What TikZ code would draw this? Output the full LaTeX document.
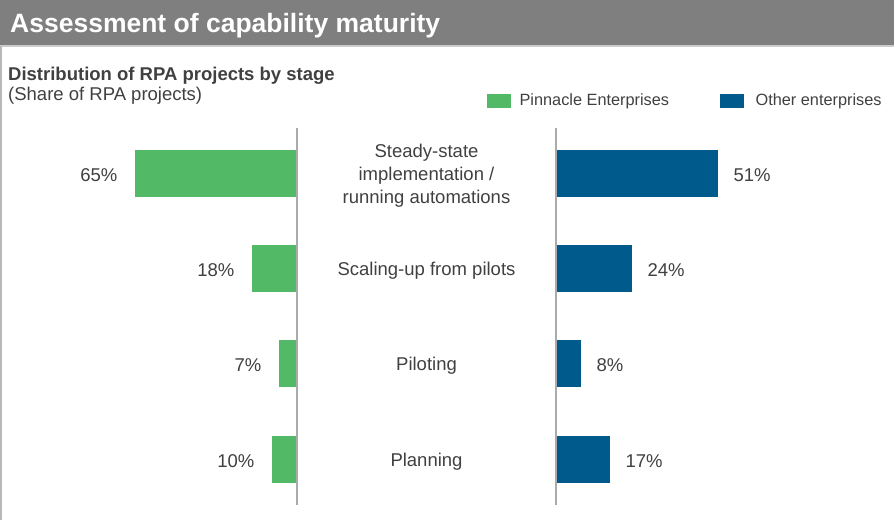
\documentclass[tikz,border=0pt]{standalone}
\usepackage{fontspec}
\setmainfont{Liberation Sans}
\usetikzlibrary{positioning}
\definecolor{titlegray}{HTML}{7F7F7F}
\definecolor{pinnacle}{HTML}{52BA66}
\definecolor{others}{HTML}{005A8C}
\definecolor{txt}{HTML}{404040}
\definecolor{axisgray}{HTML}{ABABAB}

\begin{document}
\begin{tikzpicture}[x=1pt,y=-1pt,
				gbar/.style={fill=pinnacle, minimum height=47pt, inner sep=0pt, anchor=east},
				bbar/.style={fill=others, minimum height=47pt, inner sep=0pt, anchor=west},
				val/.style={text=txt, inner sep=0pt, yshift=-2pt, font=\fontsize{18.5}{22}\selectfont},
				stage/.style={text=txt, align=center, inner sep=0pt, yshift=-2pt, font=\fontsize{18.5}{23}\selectfont},
				legbox/.style={fill=#1, minimum width=24pt, minimum height=14pt, inner sep=0pt, anchor=west},
				legtxt/.style={text=txt, inner sep=0pt, anchor=west, font=\fontsize{16.3}{19}\selectfont},
				]
				\useasboundingbox (0,0) rectangle (894,520);
				
				% header
				\fill[titlegray] (0,0) rectangle (894,45);
				\draw[gray!40, line width=1.5pt] (0,46) -- (894,46);
				\draw[gray!55, line width=1.5pt] (1,46) -- (1,520);
				\node[anchor=base west, text=white, inner sep=0pt, font=\fontsize{26.5}{30}\selectfont\bfseries] (title) at (10,32) {Assessment of capability maturity};
				\node[anchor=base west, text=txt, inner sep=0pt, font=\fontsize{18.5}{22}\selectfont\bfseries] (sub) at (8,80) {Distribution of RPA projects by stage};
				\node[anchor=base west, text=txt, inner sep=0pt, font=\fontsize{18.5}{22}\selectfont] (unit) at (8,100) {(Share of RPA projects)};
				
				% legend
				\node[legbox=pinnacle] (lg1) at (487,101) {};
				\node[legtxt, right=8pt of lg1] (lt1) {Pinnacle Enterprises};
				\node[legbox=others] (lg2) at (720,101) {};
				\node[legtxt, right=11pt of lg2] (lt2) {Other enterprises};
				
				% Pinnacle Enterprises
				\node[gbar, minimum width=162pt] (g1) at (297,173.5) {};
				\node[gbar, minimum width=45pt] (g2) at (297,268.5) {};
				\node[gbar, minimum width=18pt] (g3) at (297,363.5) {};
				\node[gbar, minimum width=25pt] (g4) at (297,459.5) {};
				\node[val, left=17pt of g1] (gv1) {65\%};
				\node[val, left=17pt of g2] (gv2) {18\%};
				\node[val, left=17pt of g3] (gv3) {7\%};
				\node[val, left=17pt of g4] (gv4) {10\%};
				
				% Other enterprises
				\node[bbar, minimum width=162pt] (b1) at (556,173.5) {};
				\node[bbar, minimum width=76pt] (b2) at (556,268.5) {};
				\node[bbar, minimum width=25pt] (b3) at (556,363.5) {};
				\node[bbar, minimum width=54pt] (b4) at (556,459.5) {};
				\node[val, right=15pt of b1] (bv1) {51\%};
				\node[val, right=15pt of b2] (bv2) {24\%};
				\node[val, right=15pt of b3] (bv3) {8\%};
				\node[val, right=15pt of b4] (bv4) {17\%};
				
				\draw[axisgray, line width=1.5pt] (297,128) -- (297,505);
				\draw[axisgray, line width=1.5pt] (556,128) -- (556,505);
				
				% stages
				\node[stage] (s1) at (426.5,173.5) {Steady-state\\implementation /\\running automations};
				\node[stage] (s2) at (426.5,268.5) {Scaling-up from pilots};
				\node[stage] (s3) at (426.5,363.5) {Piloting};
				\node[stage] (s4) at (426.5,459.5) {Planning};
			\end{tikzpicture}
\end{document}
